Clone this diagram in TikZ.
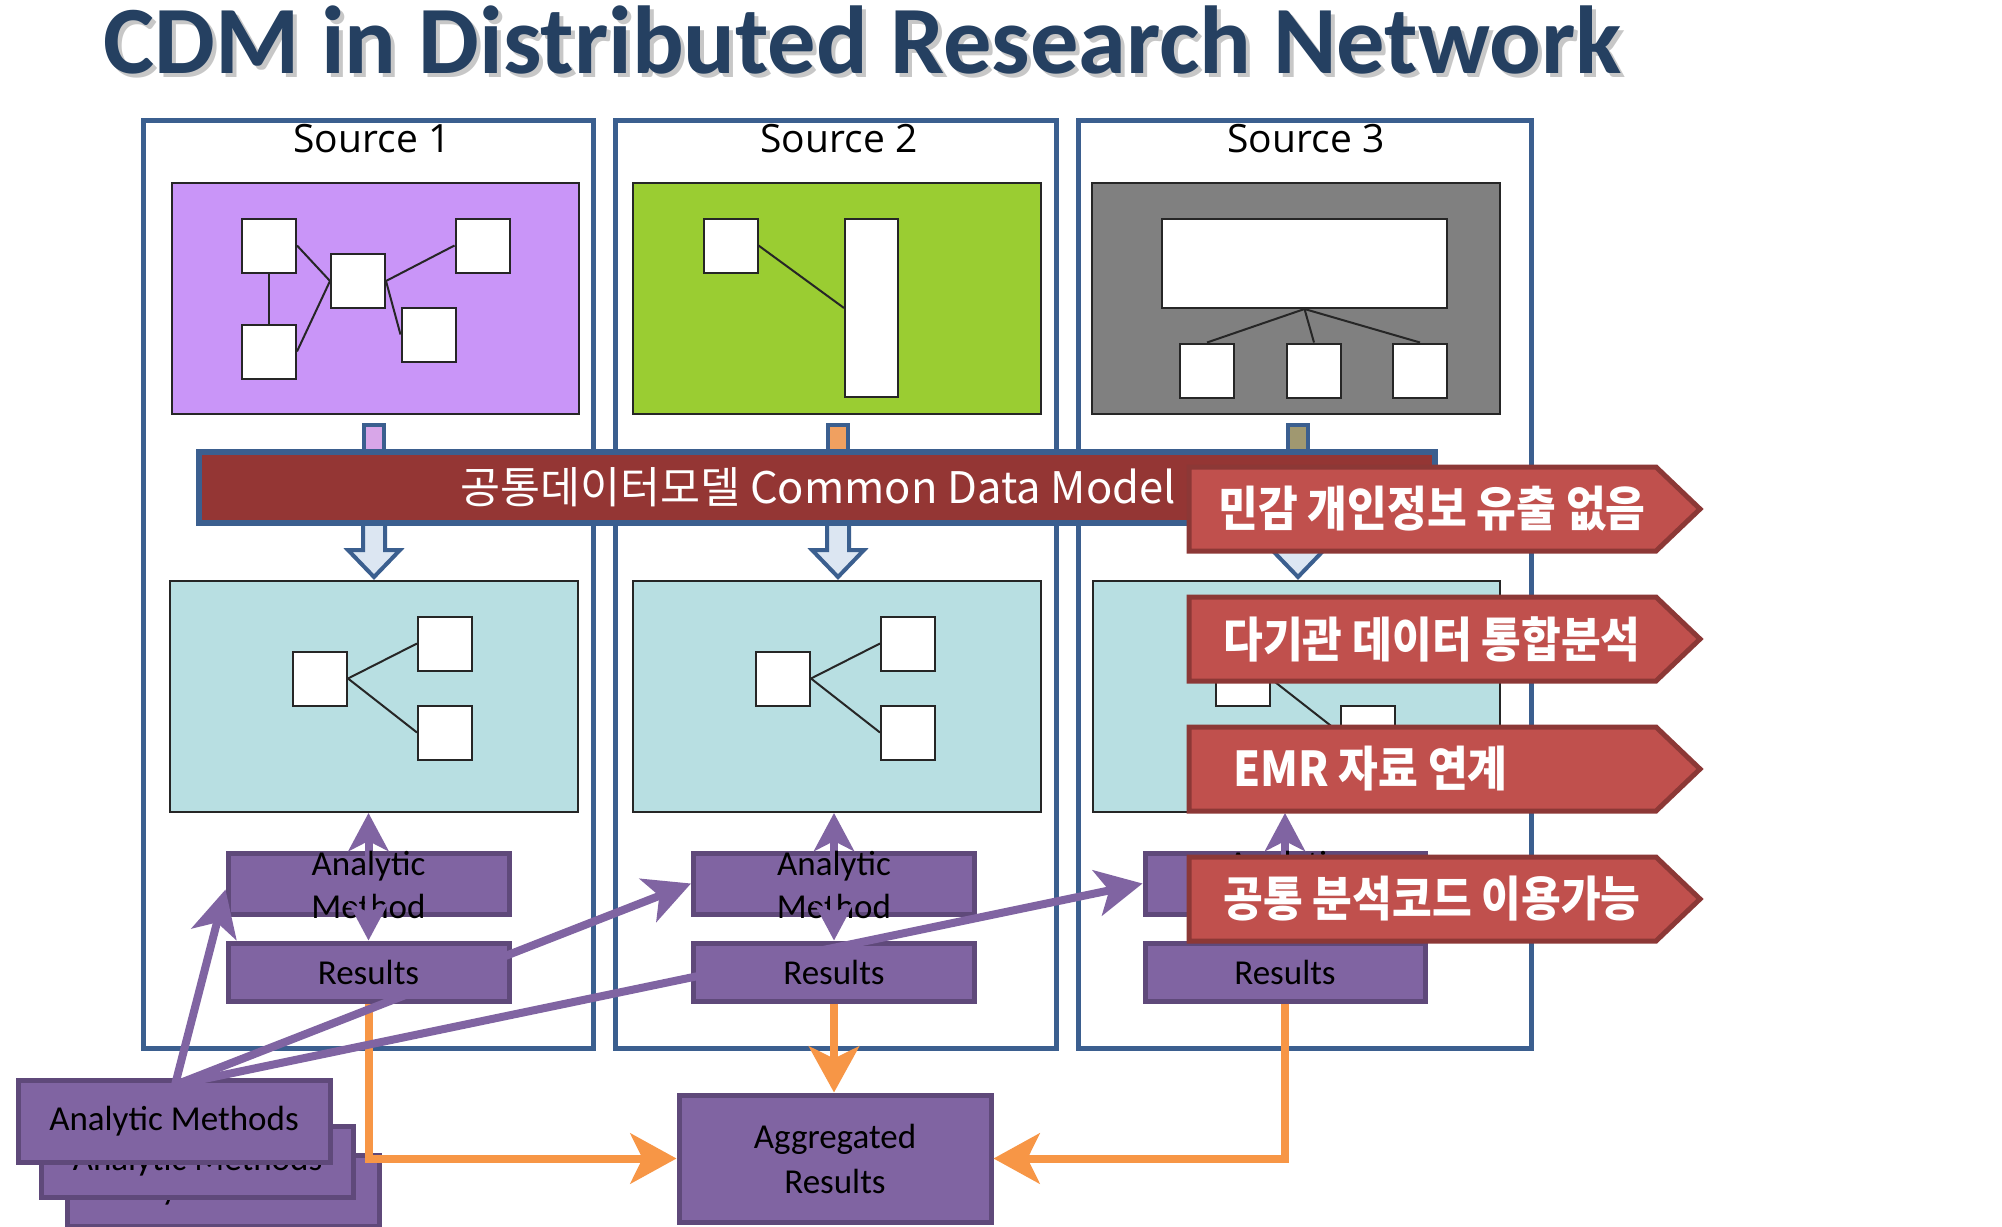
\documentclass[tikz,border=0pt]{standalone}
\usepackage{fontspec}
\setmainfont{Carlito}
\newfontfamily\krfont{Noto Sans CJK KR}
\newfontfamily\krnarrow[FakeStretch=0.9]{Noto Sans CJK KR}
\newfontfamily\srcfont{Open Sans}
\usetikzlibrary{arrows.meta,calc}
\definecolor{srcblue}{RGB}{59,95,143}
\definecolor{titlec}{RGB}{37,64,97}
\definecolor{lilac}{RGB}{201,149,248}
\definecolor{greenc}{RGB}{154,205,50}
\definecolor{grayc}{RGB}{128,128,128}
\definecolor{cyanc}{RGB}{184,223,226}
\definecolor{cdmred}{RGB}{148,54,52}
\definecolor{arrred}{RGB}{192,80,77}
\definecolor{arrreddark}{RGB}{140,56,54}
\definecolor{mpurple}{RGB}{128,100,162}
\definecolor{mpurpled}{RGB}{95,73,122}
\definecolor{orangec}{RGB}{247,150,70}
\definecolor{lightblue}{RGB}{220,230,242}
\definecolor{stubA}{RGB}{216,166,232}
\definecolor{stubB}{RGB}{240,160,96}
\definecolor{stubC}{RGB}{160,152,112}
\begin{document}
\begin{tikzpicture}[x=1pt,y=-1pt,
  srcbox/.style={draw=srcblue, line width=5pt, inner sep=0pt},
  srclabel/.style={font=\srcfont\fontsize{39}{46}\selectfont, anchor=base, inner sep=0pt},
  panel/.style={draw=black!85, line width=2pt, inner sep=0pt},
  wsq/.style={fill=white, draw=black!85, line width=2pt, minimum width=54pt, minimum height=54pt, inner sep=0pt},
  link/.style={draw=black!85, line width=2pt},
  stub/.style={draw=srcblue, line width=4pt, minimum width=20pt, minimum height=42pt, inner sep=0pt},
  blockarr/.style={draw=srcblue, line width=4pt, fill=lightblue, line join=miter},
  mbox/.style={fill=mpurple, draw=mpurpled, line width=5pt, inner sep=0pt, text=black, font=\fontsize{35}{45}\selectfont},
  mtext/.style={font=\fontsize{35}{40}\selectfont, text=black, inner sep=0pt, anchor=base},
  redarrow/.style={fill=arrred, draw=arrreddark, line width=5pt, line join=miter},
  redtext/.style={font=\krnarrow\bfseries\fontsize{48}{54}\selectfont, text=white, inner sep=0pt},
  orangearrow/.style={draw=orangec, line width=8pt, -{Stealth[length=46pt,width=50pt,inset=12pt]}},
  purplearrow/.style={draw=mpurple, line width=8pt, -{Stealth[length=46pt,width=46pt,inset=12pt]}},
  dblarrow/.style={draw=mpurple, line width=8pt, {Stealth[length=38pt,width=40pt,inset=10pt]}-{Stealth[length=38pt,width=40pt,inset=10pt]}}
]
\clip (0,0) rectangle (2002,1226);
\fill[white] (0,0) rectangle (2002,1226);

% title
\node[anchor=base west, inner sep=0pt, font=\bfseries\fontsize{96.5}{100}\selectfont, text=black, opacity=0.22] (titleshadow) at (107,77) {CDM in Distributed Research Network};
\node[anchor=base west, inner sep=0pt, font=\bfseries\fontsize{96.5}{100}\selectfont, text=titlec] (title) at (103,73) {CDM in Distributed Research Network};

% source boxes
\node[srcbox, minimum width=450pt, minimum height=928pt] (s1) at (368,584) {};
\node[srcbox, minimum width=441pt, minimum height=928pt] (s2) at (835.5,584) {};
\node[srcbox, minimum width=453pt, minimum height=928pt] (s3) at (1304.5,584) {};
\node[srclabel] (s1l) at (372,152) {Source 1};
\node[srclabel] (s2l) at (839,152) {Source 2};
\node[srclabel] (s3l) at (1306,152) {Source 3};

% source 1 panel
\node[panel, fill=lilac, minimum width=407pt, minimum height=231pt] (p1) at (375.5,298.5) {};
\node[wsq] (p1a) at (269,245.5) {};
\node[wsq] (p1b) at (269,351.5) {};
\node[wsq] (p1c) at (358,281) {};
\node[wsq] (p1d) at (482.5,245.5) {};
\node[wsq] (p1e) at (428.5,334.5) {};
\draw[link] (p1a.south) -- (p1b.north);
\draw[link] (p1a.east) -- (p1c.west);
\draw[link] (p1b.east) -- (p1c.west);
\draw[link] (p1c.east) -- (p1d.west);
\draw[link] (p1c.east) -- (p1e.west);

% source 2 panel
\node[panel, fill=greenc, minimum width=408pt, minimum height=231pt] (p2) at (837,298.5) {};
\node[wsq] (p2a) at (730.5,245.5) {};
\node[wsq, minimum width=53pt, minimum height=178pt] (p2b) at (871.5,308) {};
\draw[link] (p2a.east) -- (p2b.west);

% source 3 panel
\node[panel, fill=grayc, minimum width=408pt, minimum height=231pt] (p3) at (1296,298.5) {};
\node[wsq, minimum width=285pt, minimum height=89pt] (p3w) at (1304.5,263.5) {};
\node[wsq] (p3a) at (1207,370.5) {};
\node[wsq] (p3b) at (1314,370.5) {};
\node[wsq] (p3c) at (1420,370.5) {};
\draw[link] (p3w.south) -- (p3a.north);
\draw[link] (p3w.south) -- (p3b.north);
\draw[link] (p3w.south) -- (p3c.north);

% conversion arrows
\node[stub, fill=stubA] (st1) at (374,446) {};
\node[stub, fill=stubB] (st2) at (838,446) {};
\node[stub, fill=stubC] (st3) at (1298,446) {};
\foreach \c in {374,838,1298} {
  \draw[blockarr] (\c-11,515) -- (\c-11,550) -- (\c-26,550) -- (\c,577) -- (\c+26,550) -- (\c+11,550) -- (\c+11,515);
}

% CDM bar
\node[draw=srcblue, line width=6pt, fill=cdmred, minimum width=1236pt, minimum height=71pt, inner sep=0pt] (cdm) at (817,487.5) {};
\node[font=\krfont\fontsize{43.5}{50}\selectfont, text=white, inner sep=0pt] (cdmt) at (818,487) {공통데이터모델 Common Data Model};

% cyan panels
\node[panel, fill=cyanc, minimum width=408pt, minimum height=231pt] (c1) at (374,696.5) {};
\node[wsq] (c1l) at (320,678.5) {};
\node[wsq] (c1t) at (445,643.5) {};
\node[wsq] (c1b) at (445,732.5) {};
\draw[link] (c1l.east) -- (c1t.west);
\draw[link] (c1l.east) -- (c1b.west);
\node[panel, fill=cyanc, minimum width=408pt, minimum height=231pt] (c2) at (837,696.5) {};
\node[wsq] (c2l) at (783,678.5) {};
\node[wsq] (c2t) at (908,643.5) {};
\node[wsq] (c2b) at (908,732.5) {};
\draw[link] (c2l.east) -- (c2t.west);
\draw[link] (c2l.east) -- (c2b.west);
\node[panel, fill=cyanc, minimum width=407pt, minimum height=231pt] (c3) at (1296.5,696.5) {};
\node[wsq] (c3l) at (1242.5,678.5) {};
\node[wsq] (c3t) at (1367.5,643.5) {};
\node[wsq] (c3b) at (1367.5,732.5) {};
\draw[link] (c3l.east) -- (c3t.west);
\draw[link] (c3l.east) -- (c3b.west);

% analytic method and results boxes
\node[mbox, minimum width=281pt, minimum height=61pt] (am1) at (368.5,883.5) {};
\node[mbox, minimum width=281pt, minimum height=61pt] (am2) at (834,883.5) {};
\node[mbox, minimum width=280pt, minimum height=61pt] (am3) at (1285,883.5) {};
\node[mbox, minimum width=281pt, minimum height=58pt] (r1) at (368.5,972) {Results};
\node[mbox, minimum width=281pt, minimum height=58pt] (r2) at (834,972) {Results};
\node[mbox, minimum width=280pt, minimum height=58pt] (r3) at (1285,972) {Results};
\foreach \n in {1,2,3} {
  \node[mtext] (am\n m) at ($(am\n.center)+(0,34.5)$) {Method};
  \draw[dblarrow] (am\n.north |- c\n.south) -- (r\n.north);
  \node[mtext] (am\n a) at ($(am\n.center)+(0,-8.5)$) {Analytic};
}

% stack of analytic methods
\node[mbox, minimum width=312pt, minimum height=71pt] (ams3) at (223,1190.5) {Analytic Methods};
\node[mbox, minimum width=312pt, minimum height=71pt] (ams2) at (197.5,1161.5) {Analytic Methods};
\node[mbox, minimum width=312pt, minimum height=82pt] (ams1) at (174,1121) {Analytic Methods};

% aggregated results
\node[mbox, minimum width=312pt, minimum height=127pt, align=center] (agg) at (835,1158.5) {Aggregated\\Results};

% orange result flows
\draw[orangearrow] (r1.south) |- (agg.west);
\draw[orangearrow] (r2.south) -- (r2.south |- agg.north);
\draw[orangearrow] (r3.south) |- (agg.east);

% distribution of analytic methods
\coordinate (src) at (175,1085);
\draw[purplearrow] (src) -- ($(am1.west)+(0,6)$);
\draw[purplearrow] (src) -- (am2.west);
\draw[purplearrow] (src) -- (am3.west);

% red callouts
\foreach \t in {467,597,727,857} {
  \draw[redarrow] (1189,\t) -- (1656,\t) -- (1700,\t+42) -- (1656,\t+84) -- (1189,\t+84) -- cycle;
}
\node[redtext] (ra1) at (1432,509) {민감 개인정보 유출 없음};
\node[redtext] (ra2) at (1432,639) {다기관 데이터 통합분석};
\node[redtext, anchor=west] (ra3) at (1233,769) {EMR 자료 연계};
\node[redtext] (ra4) at (1432,899) {공통 분석코드 이용가능};
\end{tikzpicture}
\end{document}
